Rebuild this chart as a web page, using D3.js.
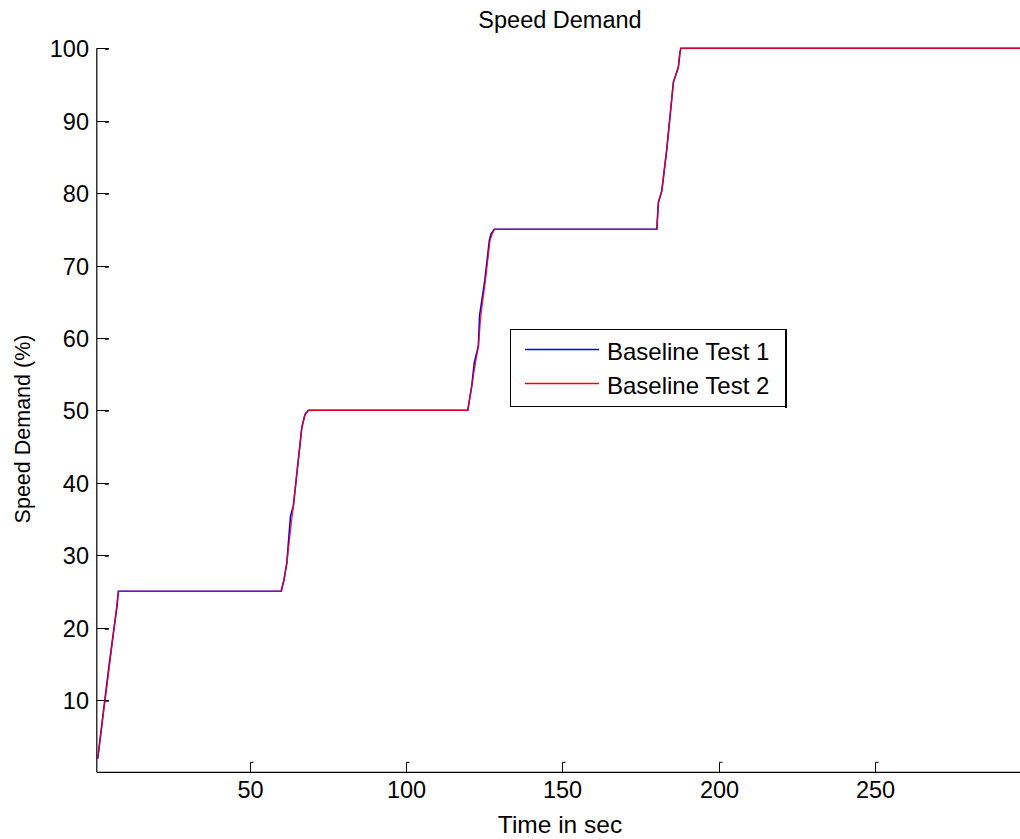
<!DOCTYPE html>
<html>
<head>
<meta charset="utf-8">
<script src="https://cdn.jsdelivr.net/npm/d3@7"></script>
<style>
  html, body { margin: 0; padding: 0; background: #fff; overflow: hidden; }
  svg { display: block; font-family: "Liberation Sans", Arial, sans-serif; }
</style>
</head>
<body>
<svg id="chart" width="1020" height="839"></svg>
<script>
// Speed demand traces (time in seconds, demand in percent)
const test1Time  = [1.3, 3, 5, 7, 7.5, 7.9, 60, 60.9, 61.8, 63.0, 63.9, 66.6, 67.6, 68.7,
                    119.7, 121.0, 121.8, 123.1, 123.5, 125.2, 126.6, 127.1, 128.2,
                    180.2, 180.7, 181.8, 183.4, 185.5, 187.1, 187.6, 187.9, 300];
const test1Value = [1.9, 8.0, 15.0, 21.5, 23.0, 25, 25, 26.6, 28.9, 35.4, 36.8, 47.6, 49.4, 50,
                    50, 53.4, 56.6, 58.9, 63.1, 68.1, 73.4, 74.3, 75,
                    75, 78.7, 80.3, 86.1, 95.3, 97.4, 99.4, 100, 100];

const test2Time  = [1.3, 3, 5, 7, 7.9, 60, 60.9, 61.8, 63.5, 63.9, 66.6, 67.6, 68.7,
                    119.7, 121.0, 122.2, 123.1, 123.9, 125.4, 126.8, 127.5, 128.2,
                    180.2, 180.7, 181.8, 183.4, 185.5, 187.1, 187.6, 187.9, 300];
const test2Value = [1.9, 7.8, 14.6, 21.5, 25, 25, 26.6, 28.9, 35.4, 36.8, 47.6, 49.4, 50,
                    50, 53.4, 56.6, 58.9, 63.1, 68.1, 73.4, 74.3, 75,
                    75, 78.7, 80.3, 86.1, 95.3, 97.4, 99.4, 100, 100];

const seriesNames = ["Baseline Test 1", "Baseline Test 2"];
const xTicks = [50, 100, 150, 200, 250];
const yTicks = [10, 20, 30, 40, 50, 60, 70, 80, 90, 100];

const svg = d3.select("#chart");
const FONT = 23.5;

const x = d3.scaleLinear().domain([1, 300]).range([96.8, 1031.2]);
const y = d3.scaleLinear().domain([0, 100]).range([772.3, 48.3]);

const axLeft = x.range()[0], axBottom = y.range()[0], axTop = y.range()[1];

// axis lines (left and bottom)
svg.append("line").attr("x1", axLeft).attr("x2", axLeft).attr("y1", axTop).attr("y2", axBottom)
  .attr("stroke", "#000").attr("stroke-width", 1.2);
svg.append("line").attr("x1", axLeft).attr("x2", 1020).attr("y1", axBottom).attr("y2", axBottom)
  .attr("stroke", "#000").attr("stroke-width", 1.2);

// y ticks, drawn inward
const yt = svg.append("g");
yTicks.forEach(v => {
  const yy = Math.round(y(v)) + 0.5;
  yt.append("line").attr("x1", axLeft).attr("x2", axLeft + 12).attr("y1", yy).attr("y2", yy)
    .attr("stroke", "#000").attr("stroke-width", 1);
  yt.append("line").attr("x1", axLeft + 8).attr("x2", axLeft + 12).attr("y1", yy + 0.5).attr("y2", yy + 0.5)
    .attr("stroke", "#000").attr("stroke-width", 1.5);
  yt.append("text").attr("x", 89).attr("y", yy).attr("text-anchor", "end")
    .attr("dominant-baseline", "central").attr("font-size", FONT).text(v);
});

// x ticks, drawn inward with a small hook
const xt = svg.append("g");
xTicks.forEach(v => {
  const xx = Math.round(x(v)) + 0.5;
  xt.append("path").attr("d", `M${xx},${axBottom} V${axBottom - 10} H${xx + 3}`)
    .attr("fill", "none").attr("stroke", "#000").attr("stroke-width", 1);
  xt.append("text").attr("x", xx).attr("y", 798).attr("text-anchor", "middle")
    .attr("font-size", FONT).text(v);
});

// traces
const line = d3.line().x(d => x(d[0])).y(d => y(d[1]));
const d1 = d3.zip(test1Time, test1Value);
const d2 = d3.zip(test2Time, test2Value);
svg.append("path").datum(d1).attr("d", line).attr("fill", "none")
  .attr("stroke", "#0000ff").attr("stroke-width", 1.6);
svg.append("path").datum(d2).attr("d", line).attr("fill", "none")
  .attr("stroke", "#ff0000").attr("stroke-width", 1.3).attr("stroke-opacity", 0.85);

// titles
svg.append("text").attr("x", 560).attr("y", 28).attr("text-anchor", "middle")
  .attr("font-size", FONT).text("Speed Demand");
svg.append("text").attr("x", 560).attr("y", 833).attr("text-anchor", "middle")
  .attr("font-size", 24.5).text("Time in sec");
svg.append("text").attr("transform", "translate(30,429) rotate(-90)")
  .attr("text-anchor", "middle").attr("font-size", 21.5).text("Speed Demand (%)");

// legend
const lg = svg.append("g");
lg.append("rect").attr("x", 510.5).attr("y", 329.5).attr("width", 275).attr("height", 77)
  .attr("fill", "#fff").attr("stroke", "#000").attr("stroke-width", 1);
lg.append("line").attr("x1", 786).attr("x2", 786).attr("y1", 329).attr("y2", 408)
  .attr("stroke", "#000").attr("stroke-width", 2);
const legColors = ["#0000ff", "#ff0000"];
seriesNames.forEach((name, i) => {
  const ly = 349.5 + i * 34;
  lg.append("line").attr("x1", 525).attr("x2", 599).attr("y1", ly).attr("y2", ly)
    .attr("stroke", legColors[i]).attr("stroke-width", 1.3);
  lg.append("text").attr("x", 607).attr("y", ly + 2).attr("dominant-baseline", "central")
    .attr("font-size", 24).text(name);
});
</script>
</body>
</html>
